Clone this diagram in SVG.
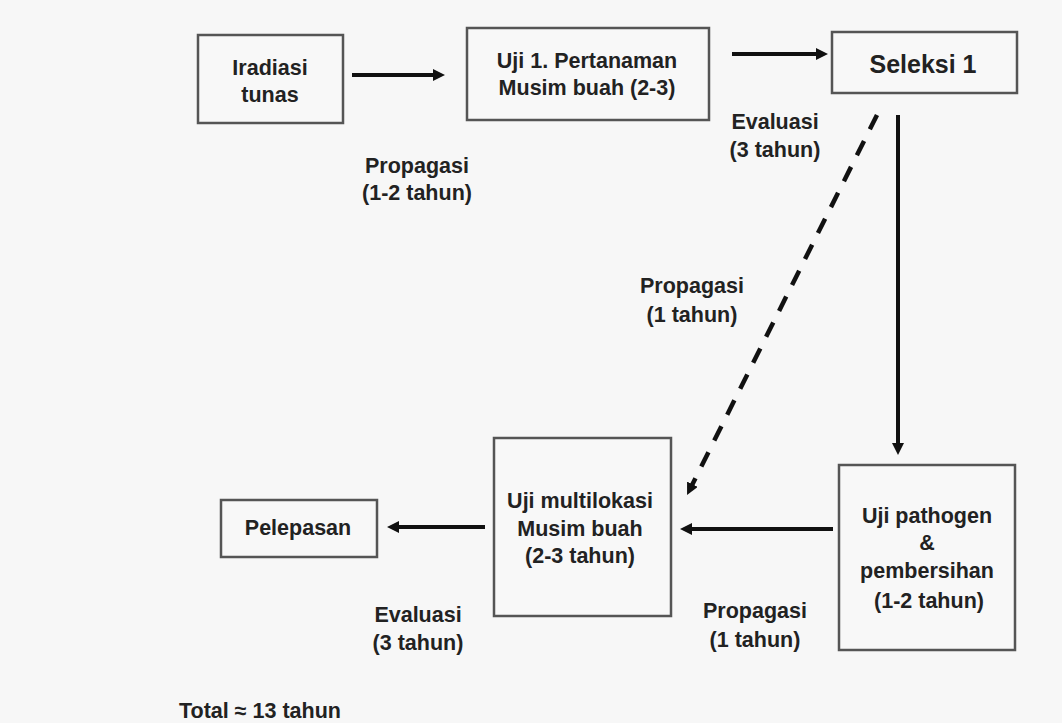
<svg xmlns="http://www.w3.org/2000/svg" width="1062" height="723" viewBox="0 0 1062 723">
<style>
.box{fill:#f8f8f8;stroke:#555;stroke-width:2.5}
.t{font-family:"Liberation Sans",Arial,sans-serif;font-weight:bold;font-size:21.5px;fill:#222;text-anchor:middle}
.big{font-size:25px}
.c{fill:none;stroke:#111;stroke-width:4}
.d{stroke-dasharray:16 13;stroke-width:4.5}
</style>
<defs>
<marker id="ah" viewBox="0 0 10 10" markerWidth="12" markerHeight="12" markerUnits="userSpaceOnUse" refX="3" refY="5" orient="auto">
<path d="M0,0 L10,5 L0,10 Z" fill="#111" stroke="none"/>
</marker>
</defs>
<rect width="1062" height="723" fill="#f7f7f7"/>
<g id="connectors">
<line class="c" x1="352" y1="75" x2="436.6" y2="75" marker-end="url(#ah)"/>
<line class="c" x1="732" y1="54" x2="819.6" y2="54" marker-end="url(#ah)"/>
<line class="c" x1="898" y1="115" x2="898" y2="446.6" marker-end="url(#ah)"/>
<line class="c d" x1="877" y1="115" x2="690.8" y2="487.5" marker-end="url(#ah)"/>
<line class="c" x1="833" y1="529" x2="688.4" y2="529" marker-end="url(#ah)"/>
<line class="c" x1="485" y1="527" x2="395.4" y2="527" marker-end="url(#ah)"/>
</g>
<g id="labels">
<text class="t" x="417" y="173">Propagasi</text>
<text class="t" x="417" y="200">(1-2 tahun)</text>
<text class="t" x="775" y="129">Evaluasi</text>
<text class="t" x="775" y="157">(3 tahun)</text>
<text class="t" x="692" y="293">Propagasi</text>
<text class="t" x="692" y="322">(1 tahun)</text>
<text class="t" x="418" y="622">Evaluasi</text>
<text class="t" x="418" y="650">(3 tahun)</text>
<text class="t" x="755" y="618">Propagasi</text>
<text class="t" x="755" y="647">(1 tahun)</text>
<text class="t" x="260" y="718">Total ≈ 13 tahun</text>
</g>
<g id="iradiasi">
<rect class="box" x="198" y="35" width="145" height="88"/>
<text class="t" x="270" y="75">Iradiasi</text>
<text class="t" x="270" y="102">tunas</text>
</g>
<g id="uji1">
<rect class="box" x="467" y="28" width="242" height="92"/>
<text class="t" x="587" y="68">Uji 1. Pertanaman</text>
<text class="t" x="587" y="95">Musim buah (2-3)</text>
</g>
<g id="seleksi">
<rect class="box" x="832" y="32" width="185" height="61"/>
<text class="t big" x="923" y="73">Seleksi 1</text>
</g>
<g id="pathogen">
<rect class="box" x="839" y="465" width="176" height="185"/>
<text class="t" x="927" y="523">Uji pathogen</text>
<text class="t" x="927" y="550">&amp;</text>
<text class="t" x="927" y="578">pembersihan</text>
<text class="t" x="929" y="608">(1-2 tahun)</text>
</g>
<g id="multilokasi">
<rect class="box" x="494" y="438" width="177" height="178"/>
<text class="t" x="580" y="508">Uji multilokasi</text>
<text class="t" x="580" y="536">Musim buah</text>
<text class="t" x="580" y="563">(2-3 tahun)</text>
</g>
<g id="pelepasan">
<rect class="box" x="221" y="500" width="156" height="57"/>
<text class="t" x="298" y="535">Pelepasan</text>
</g>
</svg>
